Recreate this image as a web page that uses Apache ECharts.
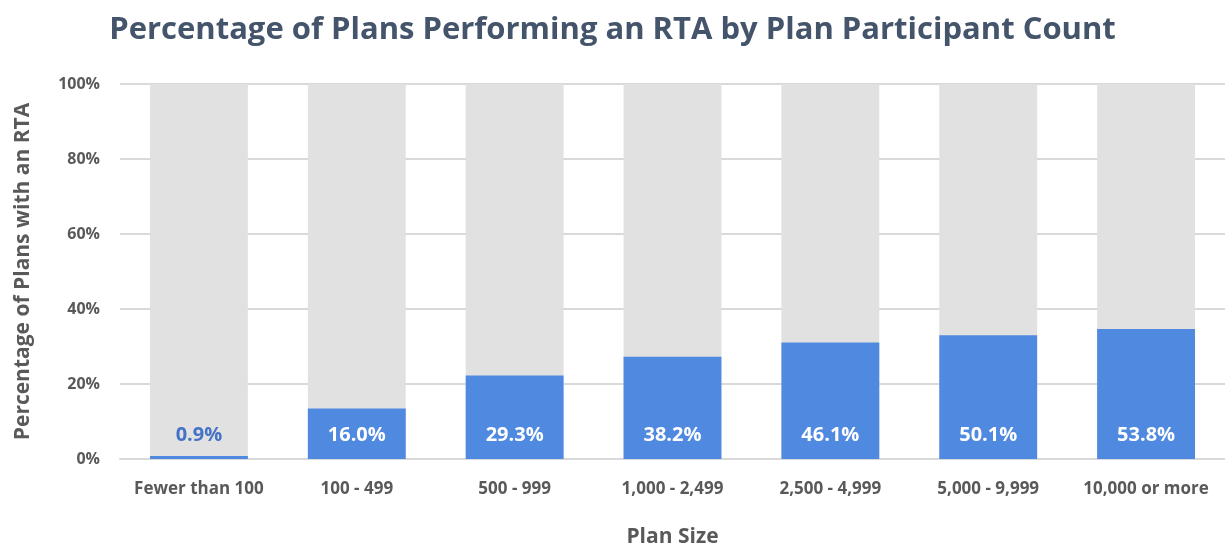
<!DOCTYPE html>
<html>
<head>
<meta charset="utf-8">
<script src="https://cdn.jsdelivr.net/npm/echarts@6/dist/echarts.min.js"></script>
<style>
  html, body { margin: 0; padding: 0; background: #fff; }
  #chart { width: 1225px; height: 545px; }
</style>
</head>
<body>
<div id="chart"></div>
<script>
const planSizes = ['Fewer than 100', '100 - 499', '500 - 999', '1,000 - 2,499', '2,500 - 4,999', '5,000 - 9,999', '10,000 or more']
// bar heights as drawn in the picture (the printed labels differ)
const barHeights = [0.8, 13.5, 22.3, 27.3, 31.1, 33.0, 34.7]
const barLabels = ['0.9%', '16.0%', '29.3%', '38.2%', '46.1%', '50.1%', '53.8%']

const font = '"Open Sans", "Noto Sans", sans-serif'
const axisGray = '#595959'

const chart = echarts.init(document.getElementById('chart'))

const seriesData = barHeights.map((v, i) => ({
  value: v,
  label: { color: v < 5 ? '#4472C4' : '#fff' }
}))

chart.setOption({
  animation: false,
  title: {
    text: 'Percentage of Plans Performing an RTA by Plan Participant Count',
    left: 'center',
    top: 10,
    textStyle: { fontFamily: font, fontSize: 31, fontWeight: 'bold', color: '#44546A' }
  },
  grid: { left: 120, right: 0, top: 84, bottom: 86, outerBoundsMode: 'none' },
  xAxis: {
    type: 'category',
    data: planSizes,
    name: 'Plan Size',
    nameLocation: 'middle',
    nameGap: 68,
    nameTextStyle: { fontFamily: font, fontSize: 21, fontWeight: 'bold', color: axisGray },
    axisTick: { show: false },
    axisLine: { lineStyle: { color: '#D9D9D9', width: 2 } },
    axisLabel: { fontFamily: font, fontSize: 17, fontWeight: 'bold', color: axisGray, margin: 22, interval: 0 }
  },
  yAxis: {
    type: 'value',
    min: 0,
    max: 100,
    interval: 20,
    name: 'Percentage of Plans with an RTA',
    nameLocation: 'middle',
    nameGap: 86,
    nameTextStyle: { fontFamily: font, fontSize: 21, fontWeight: 'bold', color: axisGray },
    axisLabel: { formatter: '{value}%', fontFamily: font, fontSize: 16, fontWeight: 'bold', color: axisGray, margin: 20 },
    splitLine: { lineStyle: { color: '#D9D9D9', width: 2 } }
  },
  series: [{
    type: 'bar',
    data: seriesData,
    barWidth: '62%',
    showBackground: true,
    backgroundStyle: { color: '#E1E1E1' },
    itemStyle: { color: '#5089E0' },
    label: {
      show: true,
      position: 'insideBottom',
      distance: 14,
      fontFamily: font,
      fontSize: 20,
      fontWeight: 'bold',
      formatter: p => barLabels[p.dataIndex]
    }
  }]
})
</script>
</body>
</html>
